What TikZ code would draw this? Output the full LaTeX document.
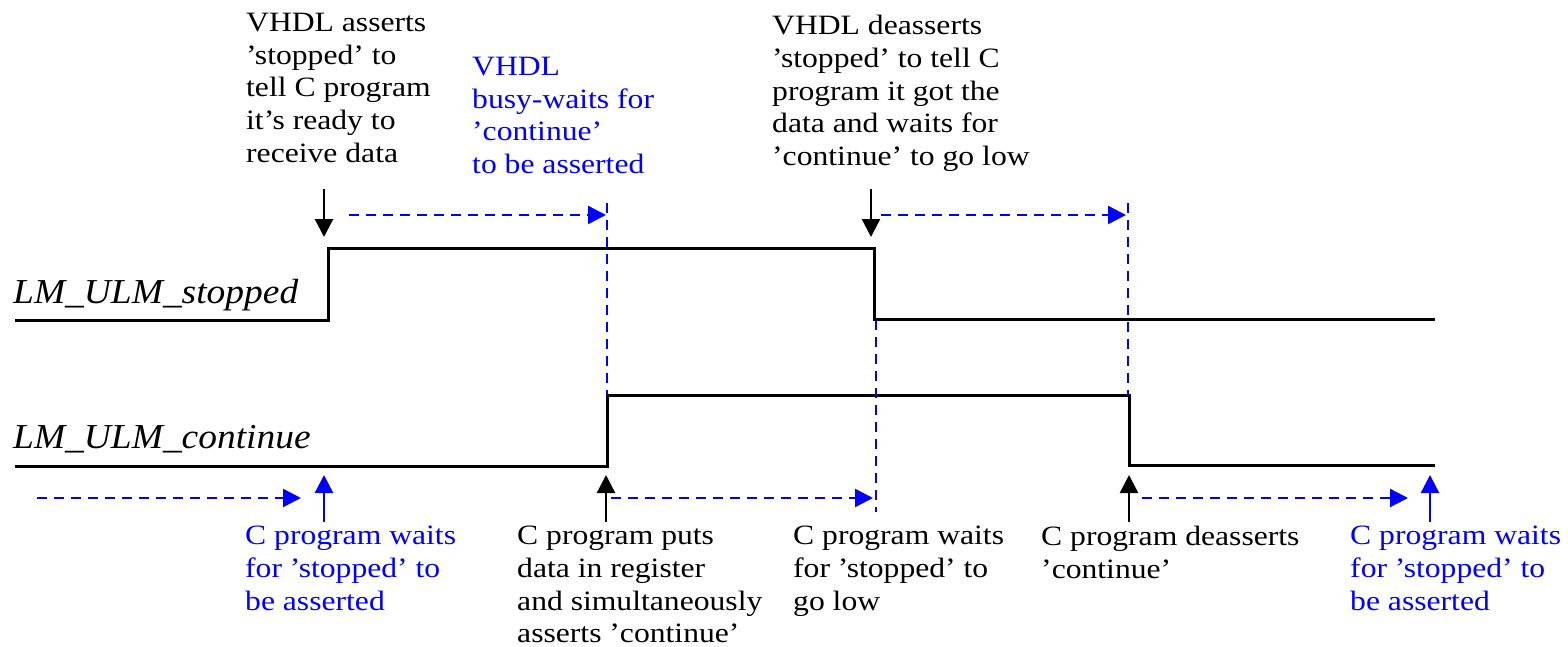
\documentclass[tikz,border=0pt]{standalone}
\usepackage{fontspec}
\setmainfont{Liberation Serif}[FakeStretch=1.13]
\newfontfamily\labfont{Liberation Serif}[FakeStretch=1.07]
\usetikzlibrary{arrows.meta}
\definecolor{ablue}{RGB}{0,0,255}
\begin{document}
\begin{tikzpicture}[x=1pt,y=-1pt,
  sig/.style={line width=3pt,line join=miter},
  blk/.style={line width=2.4pt,-{Triangle[length=18pt,width=18pt]}},
  bdash/.style={ablue,line width=2.4pt,dash pattern=on 10pt off 7pt},
  barrow/.style={bdash,-{Triangle[length=18pt,width=18pt]}},
  bup/.style={ablue,line width=2.4pt,-{Triangle[length=18pt,width=18pt]}},
  txt/.style={anchor=north west,inner sep=0pt,align=left,font=\fontsize{28}{32.7}\selectfont},
  lab/.style={anchor=base west,inner sep=0pt,font=\labfont\itshape\fontsize{35}{40}\selectfont}]
\useasboundingbox (0,0) rectangle (1568,646);

% labels
\node[lab] (l1) at (13,303) {LM\_ULM\_stopped};
\node[lab] (l2) at (13,448) {LM\_ULM\_continue};

% top texts
\node[txt] (t1) at (246,13) {VHDL asserts\\'stopped' to\\tell C program\\it's ready to\\receive data};
\node[txt,text=ablue] (t2) at (472,57) {VHDL\\busy-waits for\\'continue'\\to be asserted};
\node[txt] (t3) at (772,15) {VHDL deasserts\\'stopped' to tell C\\program it got the\\data and waits for\\'continue' to go low};

% bottom texts
\node[txt,text=ablue] (b1) at (245,526) {C program waits\\for 'stopped' to\\be asserted};
\node[txt] (b2) at (517,526) {C program puts\\data in register\\and simultaneously\\asserts 'continue'};
\node[txt] (b3) at (793,526) {C program waits\\for 'stopped' to\\go low};
\node[txt] (b4) at (1041,526) {C program deasserts\\'continue'};
\node[txt,text=ablue] (b5) at (1350,526) {C program waits\\for 'stopped' to\\be asserted};

% signal coordinates
\coordinate (s0) at (15,320);
\coordinate (s1) at (328,320);
\coordinate (s2) at (328,248);
\coordinate (s3) at (874,248);
\coordinate (s4) at (874,319);
\coordinate (s5) at (1435,319);
\coordinate (c0) at (15,466);
\coordinate (c1) at (607,466);
\coordinate (c2) at (607,395);
\coordinate (c3) at (1129,395);
\coordinate (c4) at (1129,465);
\coordinate (c5) at (1435,465);

\draw[sig] (s0) -- (s1) -- (s2) -- (s3) -- (s4) -- (s5);
\draw[sig] (c0) -- (c1) -- (c2) -- (c3) -- (c4) -- (c5);

% arrow coordinates
\coordinate (d1a) at (324,189); \coordinate (d1b) at (324,237);
\coordinate (d2a) at (871,189); \coordinate (d2b) at (871,237);
\coordinate (h1a) at (349,215); \coordinate (h1b) at (606,215);
\coordinate (h2a) at (881,215); \coordinate (h2b) at (1126,215);
\coordinate (v1a) at (607,203); \coordinate (v1b) at (607,395);
\coordinate (v2a) at (1128,203); \coordinate (v2b) at (1128,395);
\coordinate (v3a) at (876,320); \coordinate (v3b) at (876,512);
\coordinate (g1a) at (37,498); \coordinate (g1b) at (301,498);
\coordinate (g2a) at (611,498); \coordinate (g2b) at (873,498);
\coordinate (g3a) at (1142,498); \coordinate (g3b) at (1408,498);
\coordinate (u1a) at (324,522); \coordinate (u1b) at (324,475);
\coordinate (u2a) at (606,522); \coordinate (u2b) at (606,475);
\coordinate (u3a) at (1129,522); \coordinate (u3b) at (1129,475);
\coordinate (u4a) at (1430,522); \coordinate (u4b) at (1430,475);

\draw[blk] (d1a) -- (d1b);
\draw[blk] (d2a) -- (d2b);
\draw[barrow] (h1a) -- (h1b);
\draw[barrow] (h2a) -- (h2b);
\draw[bdash] (v1a) -- (v1b);
\draw[bdash] (v2a) -- (v2b);
\draw[bdash] (v3a) -- (v3b);
\draw[barrow] (g1a) -- (g1b);
\draw[barrow] (g2a) -- (g2b);
\draw[barrow] (g3a) -- (g3b);
\draw[bup] (u1a) -- (u1b);
\draw[blk] (u2a) -- (u2b);
\draw[blk] (u3a) -- (u3b);
\draw[bup] (u4a) -- (u4b);
\end{tikzpicture}
\end{document}
